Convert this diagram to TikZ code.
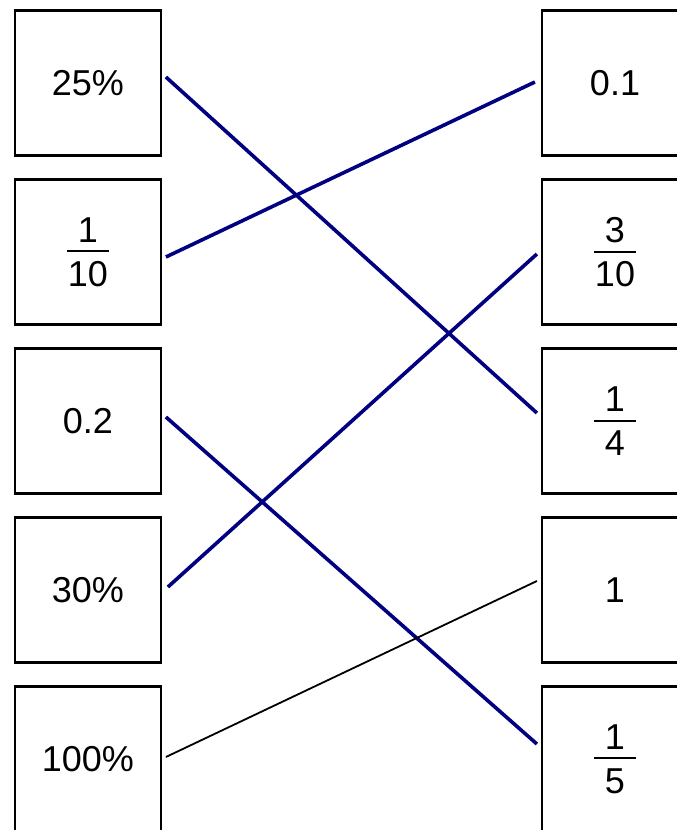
\documentclass[tikz,border=0pt]{standalone}
\usepackage{fontspec}
\setmainfont{Liberation Sans}
\definecolor{navy}{RGB}{0,0,128}
\newcommand{\fr}[2]{$\vcenter{\offinterlineskip\halign{\hfil##\hfil\cr
  #1\cr\noalign{\kern8pt}\vrule height 2pt depth 0pt width 42pt\cr
  \noalign{\kern9pt}#2\cr}}$}

\begin{document}
\begin{tikzpicture}[x=1pt, y=-1pt,
  card/.style={draw, line width=2.2pt, minimum width=146pt, minimum height=145pt,
    inner sep=0pt, font=\fontsize{36}{43}\selectfont},
  match/.style={navy, line width=3.6pt},
  wrong/.style={black, line width=1.8pt}]
  \useasboundingbox (0,0) rectangle (677,830);

  % left column
  \foreach \i/\t in {1/25\%, 2/\fr{1}{10}, 3/0.2, 4/30\%, 5/100\%}
    \node[card] (l\i) at (87.8, {83+169*(\i-1)}) {\t};

  % right column
  \foreach \i/\t in {1/0.1, 2/\fr{3}{10}, 3/\fr{1}{4}, 4/1, 5/\fr{1}{5}}
    \node[card] (r\i) at (615, {83+169*(\i-1)}) {\t};

  % pairings
  \draw[match] ([xshift=4pt, yshift=6pt]l1.east) -- ([xshift=-4pt, yshift=8pt]r3.west);
  \draw[match] ([xshift=4pt, yshift=-5pt]l2.east) -- ([xshift=-6pt, yshift=1pt]r1.west);
  \draw[match] ([xshift=4pt, yshift=4pt]l3.east) -- ([xshift=-4pt, yshift=15pt]r5.west);
  \draw[match] ([xshift=6pt, yshift=3pt]l4.east) -- ([xshift=-4pt, yshift=-2pt]r2.west);
  \draw[wrong] ([xshift=4pt, yshift=2pt]l5.east) -- ([xshift=-4pt, yshift=9pt]r4.west);
\end{tikzpicture}
\end{document}
